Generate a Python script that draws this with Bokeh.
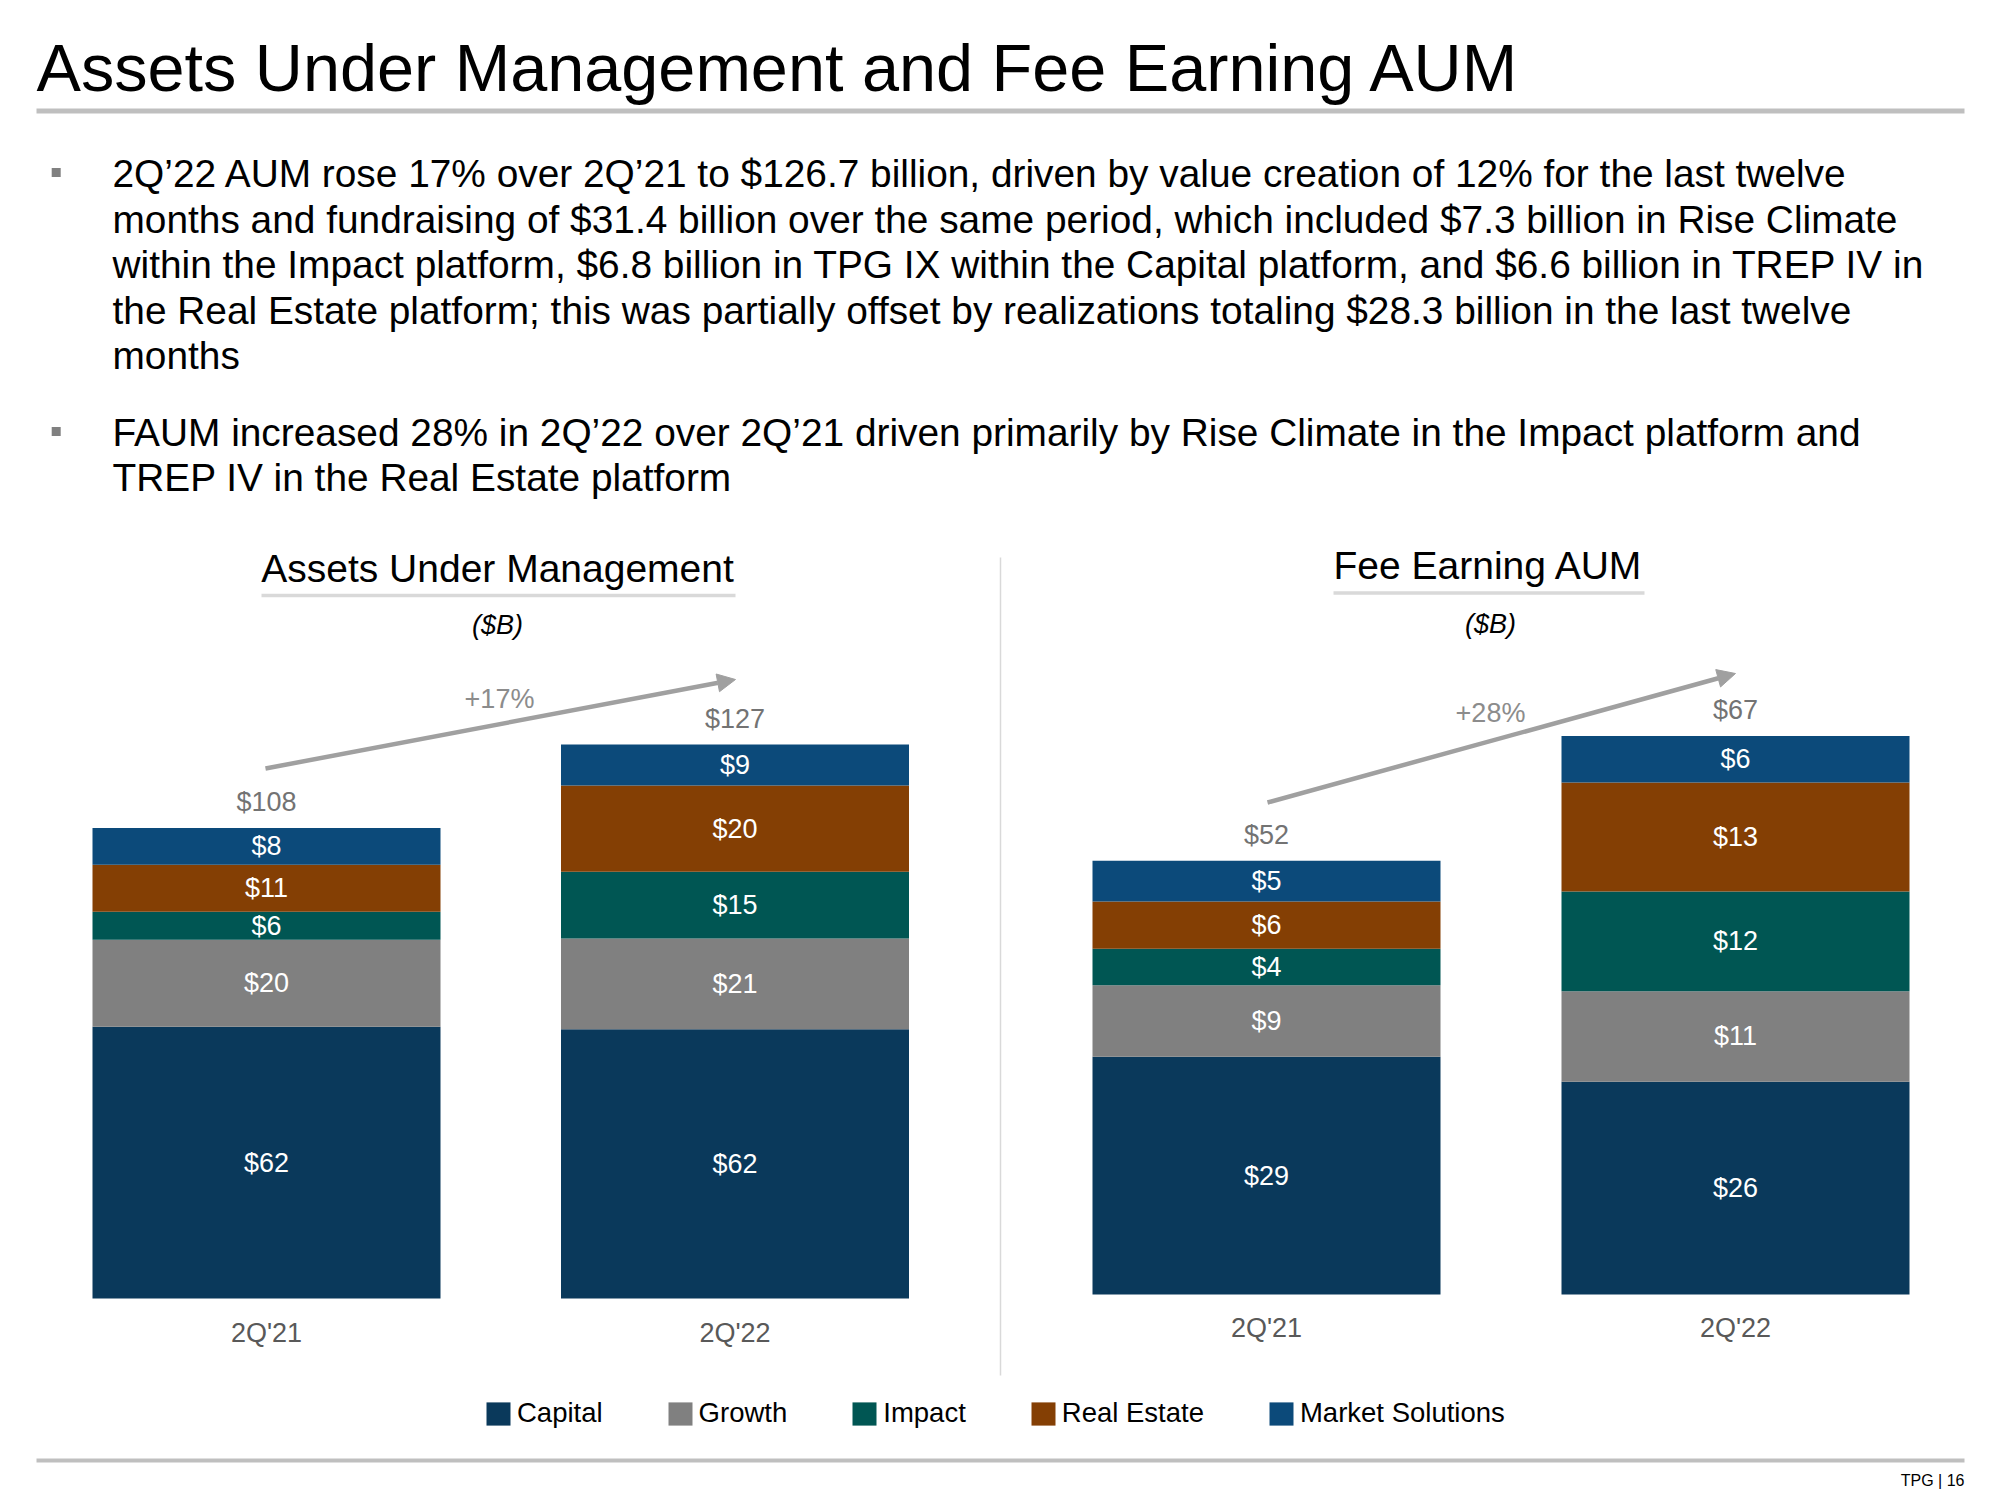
from bokeh.plotting import figure
from bokeh.models import Range1d, ColumnDataSource, Arrow, NormalHead, Legend, LegendItem
from bokeh.core.properties import value
from bokeh.embed import file_html
from bokeh.resources import INLINE

# ---------------- data ----------------
categories = ["2Q'21", "2Q'22"]
series_names = ["Capital", "Growth", "Impact", "Real Estate", "Market Solutions"]
series_keys = ["capital", "growth", "impact", "real_estate", "market_solutions"]
series_colors = ["#0A395B", "#808080", "#005653", "#843F04", "#0C4A7A"]

# Assets Under Management ($B)
aum_capital = [62.2, 61.6]
aum_growth = [19.9, 20.8]
aum_impact = [6.4, 15.3]
aum_real_estate = [10.8, 19.7]
aum_market_solutions = [8.4, 9.4]

# Fee Earning AUM ($B)
faum_capital = [28.6, 25.6]
faum_growth = [8.6, 10.9]
faum_impact = [4.4, 12.0]
faum_real_estate = [5.7, 13.1]
faum_market_solutions = [4.9, 5.6]

growth_labels = ["+17%", "+28%"]

title_text = "Assets Under Management and Fee Earning AUM"
bullet1_lines = [
    "2Q\u201922 AUM rose 17% over 2Q\u201921 to $126.7 billion, driven by value creation of 12% for the last twelve",
    "months and fundraising of $31.4 billion over the same period, which included $7.3 billion in Rise Climate",
    "within the Impact platform, $6.8 billion in TPG IX within the Capital platform, and $6.6 billion in TREP IV in",
    "the Real Estate platform; this was partially offset by realizations totaling $28.3 billion in the last twelve",
    "months",
]
bullet2_lines = [
    "FAUM increased 28% in 2Q\u201922 over 2Q\u201921 driven primarily by Rise Climate in the Impact platform and",
    "TREP IV in the Real Estate platform",
]
chart_titles = ["Assets Under Management", "Fee Earning AUM"]
unit_label = "($B)"
footer_text = "TPG | 16"

# ---------------- layout / style ----------------
FONT = "Liberation Sans"
W, H = 1992, 1492

p = figure(width=W, height=H, x_range=Range1d(0, W), y_range=Range1d(H, 0),
           output_backend="svg", toolbar_location=None,
           x_axis_location=None, y_axis_location=None, min_border=0,
           outline_line_color=None, background_fill_color="white",
           border_fill_color="white")
p.xgrid.grid_line_color = None
p.ygrid.grid_line_color = None


def x_range_for(first_px, step_px):
    start = -first_px / step_px
    return Range1d(start, start + W / step_px)


def y_range_for(base_px, px_per_unit):
    start = -(H - base_px) / px_per_unit
    return Range1d(start, start + H / px_per_unit)


charts = [
    dict(name="aum", first_px=266, step_px=468.5, base_px=1298, ppu=4.369, cat_off=34,
         data=[aum_capital, aum_growth, aum_impact, aum_real_estate, aum_market_solutions]),
    dict(name="faum", first_px=1266, step_px=469, base_px=1294, ppu=8.31, cat_off=33,
         data=[faum_capital, faum_growth, faum_impact, faum_real_estate, faum_market_solutions]),
]

p.extra_x_ranges = {c["name"] + "_x": x_range_for(c["first_px"], c["step_px"]) for c in charts}
p.extra_y_ranges = {c["name"] + "_y": y_range_for(c["base_px"], c["ppu"]) for c in charts}

BAR_W_PX = 348
legend_renderers = None
for c in charts:
    xr, yr = c["name"] + "_x", c["name"] + "_y"
    src = dict(x=list(range(len(categories))), cat=categories)
    for k, d in zip(series_keys, c["data"]):
        src[k] = d
    source = ColumnDataSource(src)
    rs = p.vbar_stack(series_keys, x="x", width=BAR_W_PX / c["step_px"], color=series_colors,
                      line_color=None, source=source, x_range_name=xr, y_range_name=yr)
    if legend_renderers is None:
        legend_renderers = rs

    # segment labels
    lx, ly, lt = [], [], []
    for i in range(len(categories)):
        bottom = 0.0
        for d in c["data"]:
            v = d[i]
            lx.append(i)
            ly.append(bottom + v / 2)
            lt.append("$%d" % round(v))
            bottom += v
    p.text(x=lx, y=ly, text=lt, x_range_name=xr, y_range_name=yr,
           text_font=value(FONT), text_font_size="27px", text_color="white",
           text_align="center", text_baseline="middle")

    # totals
    totals = [sum(d[i] for d in c["data"]) for i in range(len(categories))]
    p.text(x=list(range(len(categories))), y=totals, text=["$%d" % round(t) for t in totals],
           x_range_name=xr, y_range_name=yr, y_offset=-26,
           text_font=value(FONT), text_font_size="27px", text_color="#737373",
           text_align="center", text_baseline="middle")

    # category labels
    p.text(x=list(range(len(categories))), y=[0] * len(categories), text=categories,
           x_range_name=xr, y_range_name=yr, y_offset=c["cat_off"],
           text_font=value(FONT), text_font_size="27px", text_color="#595959",
           text_align="center", text_baseline="middle")

# ---------------- page decorations ----------------
# title + rules
p.text(x=[36], y=[67], text=[title_text], text_font=value(FONT), text_font_size="66.6px",
       text_color="black", text_align="left", text_baseline="middle")
p.segment(x0=[36, 36], y0=[110.5, 1460], x1=[1964, 1964], y1=[110.5, 1460],
          line_color="#BFBFBF", line_width=[5, 4])

# bullets (cap-height centres)
b_y1 = [173.3 + 45.4 * i for i in range(len(bullet1_lines))]
b_y2 = [431.5 + 45.5 * i for i in range(len(bullet2_lines))]
p.text(x=[112] * (len(b_y1) + len(b_y2)), y=b_y1 + b_y2, text=bullet1_lines + bullet2_lines,
       text_font=value(FONT), text_font_size="38.85px", text_color="black",
       text_align="left", text_baseline="middle")
p.rect(x=[55.7, 55.7], y=[172, 431], width=9, height=9, fill_color="#808080", line_color=None)

# chart titles, underlines, unit labels
p.text(x=[497, 1488], y=[568, 565], text=chart_titles, text_font=value(FONT),
       text_font_size="39px", text_color="black", text_align="center", text_baseline="middle")
p.segment(x0=[261, 1333], y0=[595, 592.5], x1=[735, 1644], y1=[595, 592.5],
          line_color="#D9D9D9", line_width=3.5)
p.text(x=[497, 1490], y=[624, 623], text=[unit_label, unit_label], text_font=value(FONT),
       text_font_size="27px", text_font_style="italic", text_color="black",
       text_align="center", text_baseline="middle")

# growth arrows
ARROW_C = "#A0A0A0"
for (xs, ys, xe, ye) in [(265, 768, 735, 679), (1267, 802, 1735, 673)]:
    p.add_layout(Arrow(end=NormalHead(size=18, fill_color=ARROW_C, line_color=ARROW_C),
                       x_start=xs, y_start=ys, x_end=xe, y_end=ye,
                       line_color=ARROW_C, line_width=4.5))
p.text(x=[499, 1490], y=[698, 712], text=growth_labels, text_font=value(FONT),
       text_font_size="27px", text_color="#8C8C8C", text_align="center", text_baseline="middle")

# divider
p.segment(x0=[1000], y0=[557], x1=[1000], y1=[1375], line_color="#D9D9D9", line_width=1.5)

# footer
p.text(x=[1964], y=[1480], text=[footer_text], text_font=value(FONT), text_font_size="16px",
       text_color="black", text_align="right", text_baseline="middle")

# legend (area legend glyphs are inset 10% on each side)
legend = Legend(items=[LegendItem(label=value(n), renderers=[r]) for n, r in zip(series_names, legend_renderers)],
                orientation="horizontal", location=(483, 63), glyph_width=30, glyph_height=29,
                label_standoff=4, spacing=62, padding=0, margin=0, border_line_color=None,
                background_fill_alpha=0, label_text_font=FONT, label_text_font_size="27.5px",
                label_text_color="black", label_height=23)
p.add_layout(legend)

open("out.html", "w").write(file_html(p, INLINE))
